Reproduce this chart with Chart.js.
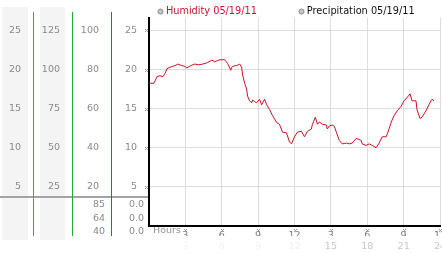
<!DOCTYPE html>
<html><head><meta charset="utf-8">
<script src="https://cdn.jsdelivr.net/npm/chart.js@4/dist/chart.umd.min.js"></script>
<style>html,body{margin:0;padding:0;background:#fff}#wrap{width:442px;height:253px}</style>
</head><body><div id="wrap"><canvas id="c" width="442" height="253"></canvas></div>
<script>
const seriesNames = ['Humidity 05/19/11', 'Precipitation 05/19/11'];
const hours = [0,0.41,0.66,0.90,1.15,1.32,1.48,1.73,2.14,2.38,2.71,2.96,3.12,3.45,3.78,4.11,4.44,4.85,5.18,5.42,5.59,5.83,6.24,6.49,6.66,6.74,6.82,7.07,7.23,7.48,7.64,7.72,7.89,8.05,8.13,8.30,8.46,8.55,8.71,8.87,9.12,9.29,9.53,9.70,9.94,10.19,10.52,10.76,11.01,11.34,11.59,11.75,12.00,12.24,12.57,12.82,13.06,13.39,13.48,13.72,13.89,14.05,14.30,14.63,14.71,14.87,15.12,15.28,15.45,15.69,15.94,16.27,16.52,16.76,17.09,17.50,17.58,17.91,18.16,18.41,18.73,18.98,19.23,19.56,19.80,19.97,20.21,20.46,20.79,21.04,21.28,21.53,21.69,22.02,22.10,22.35,22.51,22.84,23.09,23.25,23.34,23.50];
const humidity = [18.25,18.25,19.1,19.2,19.1,19.5,20.1,20.3,20.5,20.7,20.5,20.4,20.2,20.5,20.7,20.6,20.7,20.9,21.2,21.0,21.1,21.25,21.25,20.75,20.2,19.9,20.3,20.5,20.5,20.7,20.3,19.3,18.25,17.5,16.6,16.0,15.75,16.1,15.9,15.75,16.2,15.5,16.2,15.5,14.9,14.1,13.25,13.0,12.0,11.9,10.75,10.5,11.4,12.0,12.1,11.4,12.1,12.4,13.0,13.9,13.0,13.3,13.0,12.9,12.4,12.8,12.9,12.75,12.0,10.95,10.5,10.6,10.5,10.6,11.2,10.95,10.5,10.3,10.5,10.3,10.0,10.6,11.4,11.4,12.4,13.25,14.1,14.7,15.3,16.0,16.4,16.9,16.0,16.0,14.9,13.75,13.9,14.7,15.5,16.0,16.2,16.0];
const precipitation = [];
const tickHours = [3,6,9,12,15,18,21,24];
const hourLabels = ['3','6','9','12','3','6','9','12'];
const dayLabels = ['3','6','9','12','15','18','21','24'];
const mainTicks = [5,10,15,20,25];
const col1Ticks = [5,10,15,20,25];
const col2Ticks = [25,50,75,100,125];
const col3Ticks = [20,40,60,80,100];
const col3Lower = ['85','64','40'];
const col4Lower = ['0.0','0.0','0.0'];
const axisTitle = 'Hours';

const FONT = {family:'DejaVu Sans', size:9.5};
const GRAY = '#8a8a8a';
const TOP = 26.625;

function fixedTicks(values){ return s => { s.ticks = values.map(v => ({value:v})); }; }
function fixedWidth(w){ return s => { s.width = w; }; }

function yCol(max, ticks, weight, width){
  return {
    type:'linear', position:'left', min:0, max:max, weight:weight,
    afterBuildTicks: fixedTicks(ticks), afterFit: fixedWidth(width),
    grid:{display:false, drawTicks:false}, border:{display:false},
    ticks:{font:FONT, color:GRAY, padding:12}
  };
}

const decor = {
  id:'decor',
  beforeDraw(chart){
    const c = chart.ctx, s = chart.scales;
    c.save();
    c.fillStyle = '#fff'; c.fillRect(0,0,chart.width,chart.height);
    c.fillStyle = '#f4f4f4';
    c.fillRect(2, 7, s.c1.right - 7, 233);
    c.fillRect(s.c1.right + 7, 7, s.c2.right - s.c1.right - 14, 233);
    c.fillStyle = '#a3a3a3';
    c.fillRect(0, 196, s.y.right, 2);
    c.font = '9.5px "DejaVu Sans"'; c.fillStyle = GRAY; c.textAlign = 'right'; c.textBaseline = 'middle';
    const ys = [205, 219, 232];
    col3Lower.forEach((t,i) => c.fillText(t, s.c3.right - 6, ys[i]));
    col4Lower.forEach((t,i) => c.fillText(t, s.y.right - 5, ys[i]));
    c.textAlign = 'left'; c.fillStyle = '#939393';
    c.fillText(axisTitle, s.x.left + 4, 231);
    c.restore();
  },
  afterDraw(chart){
    const c = chart.ctx, s = chart.scales;
    c.save();
    const lines = [['c1','#1f9fe0'],['c2','#22aa33'],['c3','#d42a2a']];
    lines.forEach(([id,col]) => { c.fillStyle = col; c.fillRect(Math.round(s[id].right), 12, 1, 224); });
    c.fillStyle = '#9a9a9a';
    const mark = (x,y) => { x = Math.round(x)-1; y = Math.round(y)-1;
      [[0,0],[2,0],[1,1],[0,2],[2,2]].forEach(([dx,dy]) => c.fillRect(x+dx,y+dy,1,1)); };
    tickHours.forEach(h => mark(s.x.getPixelForValue(h), 229.5));
    mainTicks.forEach(v => mark(s.y.right - 3.5, s.y.getPixelForValue(v)));
    c.restore();
  },
  afterLayout(chart){
    const lg = chart.legend;
    if (lg) { lg.left = 160 - lg.options.labels.padding; lg.right = lg.left + 600; lg.width = 600; }
  }
};

new Chart(document.getElementById('c'), {
  type:'line',
  data:{ datasets:[
    {label:seriesNames[0], data:hours.map((h,i)=>({x:h,y:humidity[i]})), borderColor:'#cc1122', borderWidth:1, pointRadius:0, tension:0, yAxisID:'y', xAxisID:'x'},
    {label:seriesNames[1], data:precipitation, borderColor:'#333', borderWidth:1, pointRadius:0, yAxisID:'y', xAxisID:'x'}
  ]},
  options:{
    responsive:false, animation:false,
    layout:{padding:{top:-42, left:0, right:2, bottom:0}},
    plugins:{
      tooltip:{enabled:false},
      legend:{
        position:'top', align:'start', maxHeight:55,
        labels:{
          usePointStyle:true, boxWidth:1, boxHeight:3.6, padding:44,
          font:{family:'DejaVu Sans', size:9.75},
          generateLabels: chart => chart.data.datasets.map((ds,i)=>({
            text:ds.label, fillStyle:'#c4c4c4', strokeStyle:'#8c8c8c', lineWidth:1,
            pointStyle:'circle', fontColor: i===0 ? '#cc1133' : '#111', hidden:false, datasetIndex:i
          }))
        }
      }
    },
    scales:{
      x:{
        type:'linear', position:'bottom', min:0, max:24, weight:0,
        afterBuildTicks: fixedTicks(tickHours),
        afterFit: s => { s.height = 10; s.paddingLeft = 0; s.paddingRight = 0; },
        grid:{color:'#dddddd', drawTicks:false},
        border:{color:'#000', width:2},
        ticks:{font:FONT, color:'#7a7a7a', padding:4, maxRotation:0, autoSkip:false,
          callback: v => hourLabels[tickHours.indexOf(v)]}
      },
      x2:{
        type:'linear', position:'bottom', min:0, max:24, weight:1,
        afterBuildTicks: fixedTicks(tickHours),
        afterFit: s => { s.height = 17; s.paddingLeft = 0; s.paddingRight = 0; },
        grid:{display:false, drawTicks:false}, border:{display:false},
        ticks:{font:FONT, padding:5, maxRotation:0, autoSkip:false,
          color: ctx => (ctx.tick && ctx.tick.value > 12) ? '#c8c8c8' : '#f2f2f2',
          callback: v => dayLabels[tickHours.indexOf(v)]}
      },
      c1: yCol(TOP, col1Ticks, 4, 33),
      c2: yCol(TOP*5, col2Ticks, 3, 39),
      c3: yCol(TOP*4, col3Ticks, 2, 39),
      y:{
        type:'linear', position:'left', min:0, max:TOP, weight:1,
        afterBuildTicks: fixedTicks(mainTicks), afterFit: fixedWidth(38),
        grid:{color:'#dddddd', drawTicks:false},
        border:{color:'#000', width:2},
        ticks:{font:FONT, color:GRAY, padding:12}
      }
    }
  },
  plugins:[decor]
});
</script>
</body></html>
